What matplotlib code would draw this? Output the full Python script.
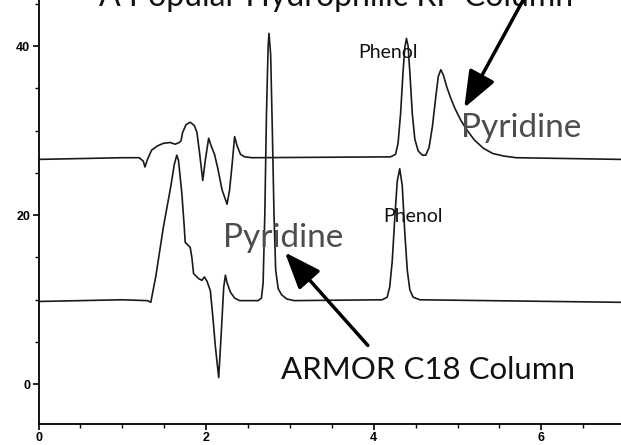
import matplotlib
matplotlib.use("Agg")
import matplotlib.pyplot as plt
from matplotlib.ticker import MultipleLocator

# retention time (min) / detector response
upper_t = [0.00, 1.00, 1.20, 1.25, 1.27, 1.30, 1.35, 1.42, 1.49, 1.57, 1.63, 1.68, 1.70,
           1.72, 1.76, 1.81, 1.86, 1.89, 1.92, 1.96, 1.99, 2.03, 2.06, 2.10, 2.14, 2.19,
           2.25, 2.28, 2.31, 2.34, 2.37, 2.41, 2.46, 2.55, 4.20, 4.26, 4.29, 4.32, 4.35,
           4.37, 4.39, 4.41, 4.43, 4.46, 4.49, 4.53, 4.58, 4.62, 4.66, 4.70, 4.74, 4.77,
           4.80, 4.83, 4.87, 4.92, 4.97, 5.04, 5.11, 5.20, 5.31, 5.42, 5.55, 5.70, 6.95]
upper_y = [26.6, 26.8, 26.8, 26.4, 25.7, 26.6, 27.7, 28.2, 28.5, 28.6, 28.4, 28.6, 28.8,
           29.8, 30.7, 31.0, 30.6, 29.8, 27.5, 24.1, 26.5, 29.1, 28.2, 27.2, 25.5, 23.0,
           21.3, 23.0, 26.0, 29.3, 28.2, 27.2, 26.9, 26.8, 26.9, 27.2, 28.5, 32.0, 37.0,
           39.8, 40.9, 40.0, 37.0, 32.0, 29.0, 27.6, 27.1, 27.1, 28.0, 30.5, 34.0, 36.4,
           37.2, 36.6, 35.2, 33.8, 32.6, 31.2, 30.1, 28.9, 27.9, 27.3, 27.0, 26.8, 26.6]

lower_t = [0.00, 1.00, 1.30, 1.34, 1.40, 1.49, 1.58, 1.62, 1.65, 1.67, 1.71, 1.74, 1.75,
           1.78, 1.81, 1.83, 1.85, 1.88, 1.91, 1.95, 1.98, 2.01, 2.05, 2.08, 2.11, 2.15,
           2.18, 2.21, 2.23, 2.25, 2.29, 2.34, 2.40, 2.62, 2.66, 2.68, 2.70, 2.72, 2.74,
           2.75, 2.77, 2.79, 2.81, 2.83, 2.86, 2.90, 2.96, 3.05, 4.10, 4.16, 4.19, 4.22,
           4.25, 4.28, 4.31, 4.34, 4.37, 4.40, 4.43, 4.47, 4.55, 6.95]
lower_y = [9.8, 10.0, 9.9, 9.7, 12.8, 18.6, 23.5, 26.0, 27.1, 26.5, 22.6, 18.5, 16.8,
           16.5, 16.2, 15.0, 13.1, 12.8, 12.5, 12.3, 12.7, 12.2, 11.1, 8.0, 4.5, 0.8,
           6.0, 11.5, 12.9, 12.0, 10.9, 10.2, 9.9, 9.9, 10.2, 12.0, 20.0, 32.0, 40.0,
           41.5, 39.0, 30.0, 20.0, 13.5, 11.3, 10.6, 10.1, 9.9, 10.0, 10.3, 11.5, 14.5,
           19.5, 24.0, 25.5, 23.5, 18.0, 13.5, 11.2, 10.3, 10.0, 9.7]

title = "A Popular Hydrophilic RP Column"
bottom_label = "ARMOR C18 Column"

fig = plt.figure(figsize=(6.21, 4.45), dpi=100)
ax = fig.add_axes([0.062, 0.047, 0.938, 0.953])
ax.plot(upper_t, upper_y, color="#1a1a1a", lw=1.2)
ax.plot(lower_t, lower_y, color="#1a1a1a", lw=1.2)

ax.set_xlim(0, 6.95)
ax.set_ylim(-4.7, 45.45)
for s in ("top", "right"):
    ax.spines[s].set_visible(False)
for s in ("left", "bottom"):
    ax.spines[s].set_linewidth(1.3)
ax.xaxis.set_major_locator(MultipleLocator(2))
ax.xaxis.set_minor_locator(MultipleLocator(0.5))
ax.yaxis.set_major_locator(MultipleLocator(20))
ax.yaxis.set_minor_locator(MultipleLocator(5))
ax.tick_params(which="major", length=4, width=1.2, direction="out", labelsize=9, pad=2)
ax.tick_params(which="minor", length=3, width=1.0, direction="out")
for lab in ax.get_xticklabels() + ax.get_yticklabels():
    lab.set_fontweight("bold")
    lab.set_family("Liberation Sans")

f = "Lato"
ax.text(3.55, 44.7, title, fontsize=23, family=f, color="#111111",
        ha="center", va="baseline", clip_on=False)
ax.text(4.65, 0.6, bottom_label, fontsize=22.5, family=f, color="#111111",
        ha="center", va="baseline")
ax.text(5.76, 29.2, "Pyridine", fontsize=24, family=f, color="#4d4d4d",
        ha="center", va="baseline")
ax.text(2.92, 16.2, "Pyridine", fontsize=24, family=f, color="#4d4d4d",
        ha="center", va="baseline")
ax.text(4.17, 38.6, "Phenol", fontsize=14, family=f, color="#111111",
        ha="center", va="baseline")
ax.text(4.47, 19.2, "Phenol", fontsize=14, family=f, color="#111111",
        ha="center", va="baseline")

arrow = dict(arrowstyle="-|>,head_length=0.9,head_width=0.35", mutation_scale=25,
             lw=2.5, color="black", shrinkA=0, shrinkB=0)
ax.annotate("", xy=(5.08, 32.7), xytext=(5.78, 45.4), arrowprops=arrow, annotation_clip=False)
ax.annotate("", xy=(2.94, 15.6), xytext=(3.93, 4.6), arrowprops=arrow)

fig.savefig("out.png", dpi=100)
